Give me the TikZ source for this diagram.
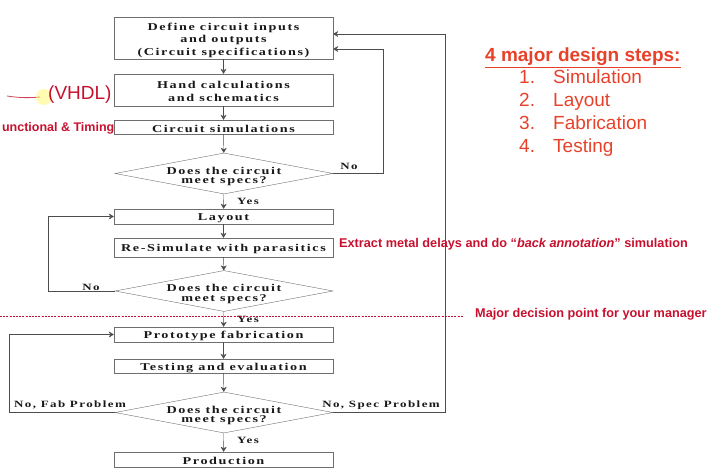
\documentclass[tikz,border=0pt]{standalone}
\usepackage{fontspec}
\usepackage{xcolor}
\usetikzlibrary{shapes.geometric,arrows.meta}
\newfontfamily\flowfont{Liberation Serif}[FakeStretch=1.35,LetterSpace=15]
\newfontfamily\notefont{Liberation Sans}
\definecolor{noteRed}{HTML}{C8102E}
\definecolor{stepRed}{HTML}{E8412A}
\definecolor{lineGray}{HTML}{6E6E6E}
\newcommand{\toplift}[1]{\rule{0pt}{#1}}

\tikzset{
  stage/.style={draw=lineGray, rectangle, minimum width=219pt, inner sep=0pt,
    execute at begin node={\rule{0pt}{11pt}},
    align=center, text=black!90, font=\flowfont\bfseries\fontsize{10.5}{12.5}\selectfont},
  check/.style={draw=lineGray, diamond, shape aspect=5.3, minimum width=218pt,
    minimum height=41pt, inner sep=-4pt,
    align=center, text=black!90, font=\flowfont\bfseries\fontsize{10.5}{9.5}\selectfont},
  flow/.style={draw=black!70, -{Stealth[length=5pt,width=6pt,inset=1.5pt]}},
  answer/.style={text=black!90, inner sep=1pt, font=\flowfont\bfseries\fontsize{9.6}{10}\selectfont},
  note/.style={text=noteRed, inner sep=0pt, font=\notefont\bfseries\fontsize{12.7}{13}\selectfont},
  stepitem/.style={text=stepRed, anchor=base west, inner sep=0pt, font=\notefont\fontsize{19}{19}\selectfont}
}

\begin{document}
\begin{tikzpicture}[x=1pt,y=-1pt]
\useasboundingbox (0,0) rectangle (712,470);

% main flow
\node[stage, minimum height=42pt] (define) at (223.5,38) {\toplift{11.5pt}Define circuit inputs\\and outputs\\(Circuit specifications)};
\node[stage, minimum height=32pt] (hand) at (223.5,90) {\toplift{10.5pt}Hand calculations\\and schematics};
\node[stage, minimum height=14pt] (csim) at (223.5,127) {Circuit simulations};
\node[check] (check1) at (224,173.5) {\toplift{13pt}Does the circuit\\meet specs?};
\node[stage, minimum height=15pt] (layout) at (223.5,216.5) {Layout};
\node[stage, minimum height=19pt] (resim) at (223.5,247.5) {Re-Simulate with parasitics};
\node[check] (check2) at (224,291) {\toplift{13pt}Does the circuit\\meet specs?};
\node[stage, minimum height=15pt] (proto) at (223.5,334.5) {Prototype fabrication};
\node[stage, minimum height=14pt] (testing) at (223.5,366) {Testing and evaluation};
\node[check] (check3) at (224,412.5) {\toplift{13pt}Does the circuit\\meet specs?};
\node[stage, minimum height=15pt] (prod) at (223.5,459.5) {Production};

\draw[flow] (define) -- (hand);
\draw[flow] (hand) -- (csim);
\draw[flow] (csim) -- (check1);
\draw[flow] (check1) -- (layout);
\draw[flow] (layout) -- (resim);
\draw[flow] (resim) -- (check2);
\draw[flow] (check2) -- (proto);
\draw[flow] (proto) -- (testing);
\draw[flow] (testing) -- (check3);
\draw[flow] (check3) -- (prod);

% loops back
\draw[flow] (check1.east) -- ++(50,0) |- ([yshift=-11pt]define.east);
\draw[flow] (check3.east) -- ++(112,0) |- ([yshift=4pt]define.east);
\draw[flow] (check2.west) -- ++(-67,0) |- (layout.west);
\draw[flow] (check3.west) -- ++(-106,0) |- (proto.west);

\node[answer] (yes1) at (248,201.5) {Yes};
\node[answer] (yes2) at (248,319) {Yes};
\node[answer] (yes3) at (248,440.5) {Yes};
\node[answer] (no1) at (349,166) {No};
\node[answer] (no2) at (91,287.5) {No};
\node[answer] (nofab) at (70,405) {No, Fab Problem};
\node[answer] (nospec) at (381,405) {No, Spec Problem};

% annotations
\draw[noteRed!80, line width=0.8pt] (7,96) .. controls (20,98) and (30,98) .. (40,97);
\fill[yellow!60, opacity=0.5] (44,97) circle (8pt);
\node[note, anchor=west, font=\notefont\fontsize{19}{19}\selectfont] (vhdl) at (48,95) {(VHDL)};
\node[note, anchor=east, font=\notefont\bfseries\fontsize{12.5}{13}\selectfont] (timing) at (114.5,128) {unctional \& Timing};
\node[note, anchor=west] (extract) at (339,244) {Extract metal delays and do “\textit{back annotation}” simulation};
\coordinate (cutL) at (0,316);
\coordinate (cutR) at (463,316);
\draw[noteRed, line width=0.8pt, dash pattern=on 2pt off 1.2pt] (cutL) -- (cutR);
\node[note, anchor=west] (manager) at (475,314) {Major decision point for your manager};

% design steps
\node[text=stepRed, anchor=base west, inner sep=0pt, font=\notefont\bfseries\fontsize{19}{19}\selectfont] (steps) at (485,62) {\underline{4 major design steps:}};
\node[stepitem] (n1) at (519,84) {1.};
\node[stepitem] (s1) at (553,84) {Simulation};
\node[stepitem] (n2) at (519,107) {2.};
\node[stepitem] (s2) at (553,107) {Layout};
\node[stepitem] (n3) at (519,130) {3.};
\node[stepitem] (s3) at (553,130) {Fabrication};
\node[stepitem] (n4) at (519,153) {4.};
\node[stepitem] (s4) at (553,153) {Testing};
\end{tikzpicture}
\end{document}
